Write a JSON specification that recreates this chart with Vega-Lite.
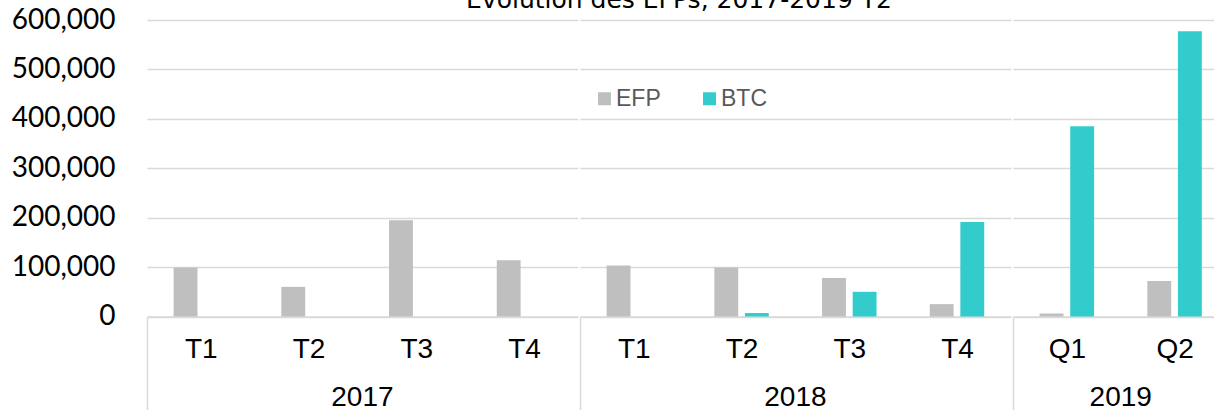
{
  "$schema": "https://vega.github.io/schema/vega-lite/v6.json",
  "padding": {"left": 11, "top": -12, "right": 0, "bottom": 0},
  "title": {"text": "Évolution des EFPs, 2017-2019 T2", "font": "DejaVu Sans", "fontSize": 25, "fontWeight": "normal", "color": "#000000", "anchor": "middle", "offset": -7, "dx": 59},
  "data": {"values": [
    {"year": "2017", "quarter": "T1", "series": "EFP", "value": 99000},
    {"year": "2017", "quarter": "T2", "series": "EFP", "value": 60000},
    {"year": "2017", "quarter": "T3", "series": "EFP", "value": 195000},
    {"year": "2017", "quarter": "T4", "series": "EFP", "value": 114000},
    {"year": "2018", "quarter": "T1", "series": "EFP", "value": 103000},
    {"year": "2018", "quarter": "T2", "series": "EFP", "value": 99000},
    {"year": "2018", "quarter": "T2", "series": "BTC", "value": 7000},
    {"year": "2018", "quarter": "T3", "series": "EFP", "value": 78000},
    {"year": "2018", "quarter": "T3", "series": "BTC", "value": 50000},
    {"year": "2018", "quarter": "T4", "series": "EFP", "value": 25000},
    {"year": "2018", "quarter": "T4", "series": "BTC", "value": 191000},
    {"year": "2019", "quarter": "Q1", "series": "EFP", "value": 6000},
    {"year": "2019", "quarter": "Q1", "series": "BTC", "value": 385000},
    {"year": "2019", "quarter": "Q2", "series": "EFP", "value": 72000},
    {"year": "2019", "quarter": "Q2", "series": "BTC", "value": 577000}
  ]},
  "facet": {"column": {"field": "year", "type": "ordinal", "header": {"labelOrient": "bottom", "title": null, "labelFont": "Liberation Sans Narrow, Liberation Sans", "labelFontSize": 28, "labelColor": "#000000", "labelPadding": -34}}},
  "spacing": 0,
  "resolve": {"scale": {"x": "independent"}},
  "spec": {
    "width": {"step": 30.6},
    "height": 296.5,
    "mark": {"type": "bar"},
    "encoding": {
      "x": {"field": "quarter", "type": "nominal", "scale": {"paddingInner": 0, "paddingOuter": 0},
        "axis": {"title": null, "labelAngle": 0, "labelFont": "Liberation Sans Narrow, Liberation Sans", "labelFontSize": 28, "labelColor": "#000000",
          "domainColor": "#d9d9d9", "domainWidth": 1.5, "tickBand": "extent", "tickSize": 100, "tickWidth": 1.5,
          "tickColor": {"condition": {"test": "datum.value == null", "value": "#d9d9d9"}, "value": "transparent"},
          "labelPadding": -81, "grid": false}},
      "xOffset": {"field": "series", "type": "nominal", "scale": {"domain": ["EFP", "BTC"], "paddingInner": 0.22, "paddingOuter": 0.87}},
      "y": {"field": "value", "type": "quantitative", "scale": {"domain": [0, 600000]},
        "axis": {"title": null, "format": ",.0f", "tickCount": 6, "labelFont": "Lato", "labelFontSize": 28, "labelColor": "#000000", "labelPadding": 31, "ticks": false, "domain": false, "grid": true, "gridColor": "#d9d9d9", "gridWidth": 1.5}},
      "color": {"field": "series", "type": "nominal", "scale": {"domain": ["EFP", "BTC"], "range": ["#bfbfbf", "#33cccc"]},
        "legend": {"title": null, "orient": "none", "legendX": 446, "legendY": 67, "direction": "horizontal", "symbolType": "square", "symbolSize": 169, "symbolStrokeWidth": 0, "labelFont": "Liberation Sans", "labelFontSize": 23, "labelColor": "#595959", "columnPadding": 37, "labelOffset": 0, "padding": 0}}
    }
  },
  "config": {"view": {"stroke": null}}
}
